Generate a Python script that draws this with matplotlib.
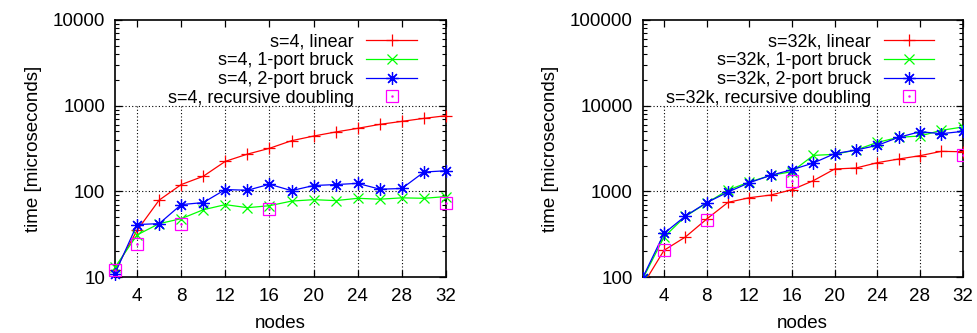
import matplotlib.pyplot as plt
from matplotlib.legend_handler import HandlerTuple
import numpy as np

plt.rcParams['font.family'] = ['Liberation Sans', 'DejaVu Sans']

nodes = list(range(2, 33, 2))
rd_nodes = [2, 4, 8, 16, 32]

# s=4
s4_linear = [12, 35, 79, 120, 150, 224, 272, 318, 390, 442, 493, 544, 605, 656, 711, 764]
s4_bruck1 = [13, 31, 42, 48, 61, 70, 64.5, 68, 77, 80, 78, 83, 81, 84, 83, 87]
s4_bruck2 = [11, 41, 42, 70, 74, 105, 103, 121, 102, 117, 120, 124, 106, 108, 168, 174]
s4_rd = [12, 24, 42, 63, 74]

# s=32k
s32k_linear = [80, 205, 293, 475, 744, 843, 906, 1045, 1333, 1823, 1873, 2161, 2385, 2608, 2930, 2900]
s32k_bruck1 = [95, 293, 510, 731, 1037, 1285, 1537, 1698, 2630, 2704, 3036, 3730, 4268, 4427, 5155, 5634]
s32k_bruck2 = [98, 323, 515, 738, 982, 1262, 1537, 1791, 2142, 2754, 3036, 3443, 4268, 4970, 4708, 5010]
s32k_rd = [70, 205, 466, 1333, 2655]

xticks = [4, 8, 12, 16, 20, 24, 28, 32]


def panel(ax, tag, linear, b1, b2, rd, ylim, clip):
    ax.set_yscale('log')
    ax.set_xlim(2, 32)
    ax.set_ylim(*ylim)
    l1, = ax.plot(nodes, linear, color='#ff0000', lw=0.9, marker='+', ms=8, mew=0.9, clip_on=clip, zorder=3)
    l2, = ax.plot(nodes, b1, color='#00ff00', lw=0.9, marker='x', ms=7, mew=0.9, clip_on=clip, zorder=3)
    l3, = ax.plot(nodes, b2, color='#0000ff', lw=0.9, marker=(8, 2, 0), ms=9, mew=0.9, clip_on=clip, zorder=3)
    sq, = ax.plot(rd_nodes, rd, ls='none', marker='s', ms=8, mfc='none', mec='#ff00ff', mew=0.9, clip_on=clip, zorder=4)
    dt, = ax.plot(rd_nodes, rd, ls='none', marker='.', ms=1.5, color='#ff00ff', clip_on=clip, zorder=4)

    # grid stops under the key (top decade)
    for x in xticks[:-1]:
        ax.axvline(x, ymax=2 / 3, color='black', lw=0.8, ls=(0, (1, 2)), zorder=1)
    for k in (1, 2):
        ax.axhline(ylim[0] * 10 ** k, color='black', lw=0.8, ls=(0, (1, 2)), zorder=1)

    ax.set_xticks(xticks)
    ax.tick_params(which='both', direction='in', top=True, right=True, labelsize=13.5)
    ax.tick_params(which='major', length=5, width=0.9)
    ax.tick_params(axis='y', which='major', pad=7)
    ax.tick_params(axis='x', which='major', pad=8)
    ax.tick_params(which='minor', length=3, width=0.8)
    ax.tick_params(axis='x', which='minor', bottom=False, top=False)
    ax.set_yticks([ylim[0] * 10 ** k for k in range(4)])
    ax.set_yticklabels([str(int(ylim[0] * 10 ** k)) for k in range(4)])
    for sp in ax.spines.values():
        sp.set_linewidth(1.2)
    ax.set_xlabel('nodes', fontsize=13.5, labelpad=7)
    ax.set_ylabel('time [microseconds]', fontsize=13.5, labelpad=8)

    ax.legend([l1, l2, l3, (sq, dt)],
              [tag + ', linear', tag + ', 1-port bruck', tag + ', 2-port bruck', tag + ', recursive doubling'],
              handler_map={tuple: HandlerTuple(ndivide=1)},
              loc='upper right', bbox_to_anchor=(0.945, 0.99), frameon=False, markerfirst=False,
              fontsize=13, labelspacing=0.1, handlelength=2.8, handletextpad=0.7,
              borderpad=0.1, numpoints=1)


fig = plt.figure(figsize=(9.77, 3.33), dpi=100)
ax1 = fig.add_axes([0.1177, 0.168, 0.3388, 0.772])
ax2 = fig.add_axes([0.6578, 0.168, 0.3275, 0.772])
panel(ax1, 's=4', s4_linear, s4_bruck1, s4_bruck2, s4_rd, (10, 10000), False)
panel(ax2, 's=32k', s32k_linear, s32k_bruck1, s32k_bruck2, s32k_rd, (100, 100000), True)

fig.savefig('out.png', dpi=100)
